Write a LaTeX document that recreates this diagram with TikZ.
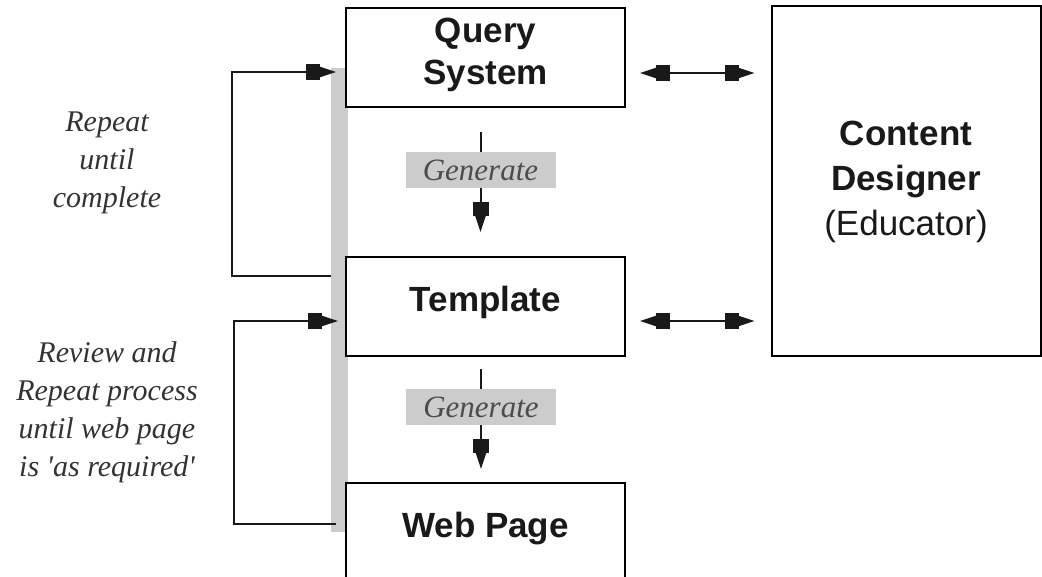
\documentclass[tikz,border=0pt]{standalone}
\usepackage{fontspec}
\setmainfont{Liberation Serif}
\setsansfont{Liberation Sans}
\usetikzlibrary{arrows.meta}
\tikzset{
  boxnode/.style={draw=black, line width=2pt, inner sep=0pt, fill=white},
  boxtext/.style={font=\sffamily\bfseries\fontsize{35}{42}\selectfont, align=center, text=black!90},
  notetext/.style={font=\itshape\fontsize{30}{38}\selectfont, align=center, text=black!80},
  genbox/.style={fill=black!20, inner sep=0pt, minimum width=150pt, minimum height=36pt,
     font=\itshape\fontsize{31}{36}\selectfont, text=black!70},
  conn/.style={line width=2pt, draw=black!90},
  arrE/.style={conn, -{Square[length=14pt,width=16pt,sep=0pt]Triangle[length=16pt,width=10pt,sep=0pt]}},
  arrB/.style={conn, {Triangle[length=16pt,width=10pt,sep=0pt]Square[length=14pt,width=16pt,sep=0pt]}-{Square[length=14pt,width=16pt,sep=0pt]Triangle[length=16pt,width=10pt,sep=0pt]}},
}
\begin{document}
\begin{tikzpicture}[x=1pt,y=-1pt]
\useasboundingbox (0,0) rectangle (1042,577);
\clip (0,0) rectangle (1042,577);
% gray bar
\fill[black!20] (331,68) rectangle (348,532);
% boxes
\node[boxnode, minimum width=279pt, minimum height=99pt] (qs) at (485.5,57.5) {};
\node[boxnode, minimum width=279pt, minimum height=99pt] (tp) at (485.5,306.5) {};
\node[boxnode, minimum width=279pt, minimum height=130pt] (wp) at (485.5,548) {};
\node[boxnode, minimum width=269pt, minimum height=350pt] (cd) at (906,181) {};
% box texts
\node[boxtext] (qst) at (485.5,55) {Query\\System};
\node[boxtext] (tpt) at (485.5,302) {Template};
\node[boxtext] (wpt) at (485.5,529) {Web Page};
\node[boxtext, font=\sffamily\fontsize{35}{45}\selectfont] (cdt) at (906,182) {\bfseries Content\\\bfseries Designer\\(Educator)};
% generate labels
\node[genbox] (g1) at (480.5,170) {Generate};
\node[genbox] (g2) at (481,407) {Generate};
\draw[conn, shorten <=24pt] (qs.south -| g1) -- (g1.north);
\draw[arrE, shorten >=24pt] (g1.south) -- (tp.north -| g1);
\draw[conn, shorten <=12pt] (tp.south -| g2) -- (g2.north);
\draw[arrE, shorten >=13pt] (g2.south) -- (wp.north -| g2);
% double arrows
\draw[arrB, shorten <=14pt, shorten >=16pt] ([yshift=-15.5pt]qs.east) -- ([yshift=-15.5pt]qs.east -| cd.west);
\draw[arrB, shorten <=14pt, shorten >=16pt] ([yshift=-14.5pt]tp.east) -- ([yshift=-14.5pt]tp.east -| cd.west);
% loops
\coordinate (l1s) at (331,276);
\coordinate (l2s) at (336,524);
\draw[arrE] (l1s) -- ++(-99,0) |- ([xshift=-9pt,yshift=-14.5pt]qs.west);
\draw[arrE] (l2s) -- ++(-102,0) |- ([xshift=-7pt,yshift=-14.5pt]tp.west);
% notes
\node[notetext] (n1) at (107,163) {Repeat\\until\\complete};
\node[notetext] (n2) at (107,412) {Review and\\Repeat process\\until web page\\is \textquotesingle as required\textquotesingle};
\end{tikzpicture}
\end{document}
